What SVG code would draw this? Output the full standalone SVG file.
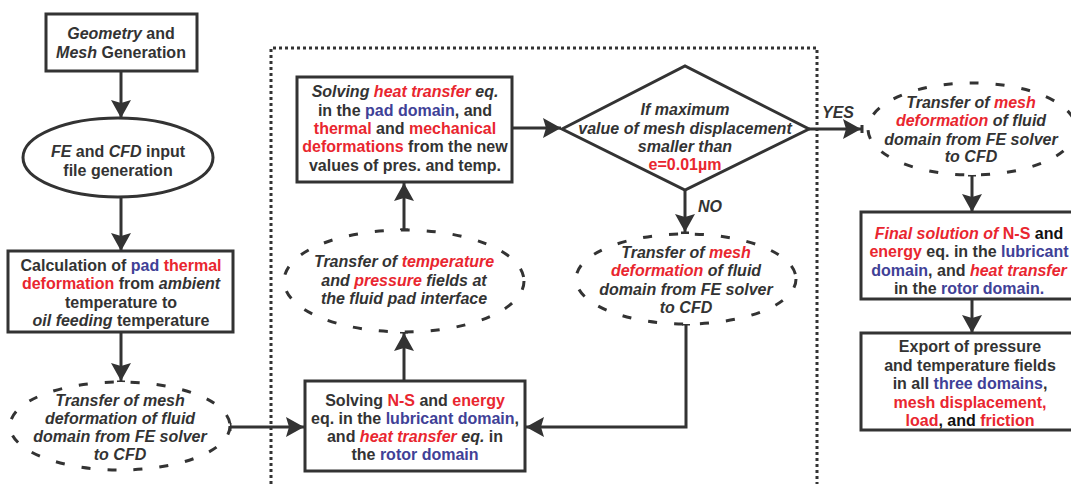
<svg xmlns="http://www.w3.org/2000/svg" width="1071" height="484" viewBox="0 0 1071 484">
<style>
text{font-family:"Liberation Sans",Arial,sans-serif;font-size:16px;font-weight:bold;fill:#333;text-anchor:middle}
.i{font-style:italic}
.r{fill:#e9262f}
.b{fill:#3f4197}
.k{fill:#111}
.box{fill:#fff;stroke:#333;stroke-width:3}
.sol{fill:#fff;stroke:#333;stroke-width:3}
.dash{fill:#fff;stroke:#333;stroke-width:3;stroke-dasharray:9 17}
.ln{fill:none;stroke:#333;stroke-width:3}
.dot{fill:none;stroke:#333;stroke-width:3;stroke-dasharray:3 3}
</style>
<defs>
<marker id="ah" markerWidth="19" markerHeight="20" refX="18" refY="10" orient="auto" markerUnits="userSpaceOnUse">
<path d="M0,0 L18,10 L0,20 L3,10 z" fill="#333"/>
</marker>
</defs>
<rect width="1071" height="484" fill="#fff"/>
<path id="frame" class="dot" d="M271,484 V48 H817 V484"/>
<g id="connectors">
<path class="ln" d="M121,71 V118" marker-end="url(#ah)"/>
<path class="ln" d="M121,197 V251" marker-end="url(#ah)"/>
<path class="ln" d="M121,332 V381" marker-end="url(#ah)"/>
<path class="ln" d="M230,427 H304" marker-end="url(#ah)"/>
<path class="ln" d="M404,381 V333" marker-end="url(#ah)"/>
<path class="ln" d="M404,230 V183" marker-end="url(#ah)"/>
<path class="ln" d="M512,128 H561" marker-end="url(#ah)"/>
<path class="ln" d="M685,190 V232" marker-end="url(#ah)"/>
<path class="ln" d="M686,324 V427 H526" marker-end="url(#ah)"/>
<path class="ln" d="M809,129 H861" marker-end="url(#ah)"/>
<path class="ln" d="M972,175 V212" marker-end="url(#ah)"/>
<path class="ln" d="M972,299 V333" marker-end="url(#ah)"/>
<path class="ln" d="M117,382 H125 M230,423 V431 M400,332 H408 M400,230 H408 M681,233 H689 M682,324 H690 M862,125 V133 M968,175 H976"/>
<text class="i" x="838" y="118">YES</text>
<text class="i" x="698" y="212" style="text-anchor:start">NO</text>
</g>
<g id="n1">
<rect class="box" x="46" y="14" width="151" height="57"/>
<text x="121" y="39"><tspan class="i">Geometry</tspan> and</text>
<text x="121" y="58"><tspan class="i">Mesh</tspan> Generation</text>
</g>
<g id="n2">
<ellipse class="sol" cx="118" cy="157.5" rx="95" ry="39.5"/>
<text x="118" y="157"><tspan class="i">FE</tspan> and <tspan class="i">CFD</tspan> input</text>
<text x="118" y="176">file generation</text>
</g>
<g id="n3">
<rect class="box" x="8" y="251" width="225" height="81"/>
<text x="121" y="270.5">Calculation of <tspan class="b">pad</tspan> <tspan class="r">thermal</tspan></text>
<text x="121" y="289"><tspan class="r">deformation</tspan> from <tspan class="i">ambient</tspan></text>
<text x="121" y="307.5">temperature to</text>
<text x="121" y="325.5"><tspan class="i">oil feeding</tspan> temperature</text>
</g>
<g id="n4">
<ellipse class="dash" cx="120" cy="426" rx="110" ry="44"/>
<text class="i" x="120" y="405.5">Transfer of mesh</text>
<text class="i" x="120" y="424">deformation of fluid</text>
<text class="i" x="120" y="442">domain from FE solver</text>
<text class="i" x="120" y="459.5">to CFD</text>
</g>
<g id="n5">
<rect class="box" x="305" y="381" width="220" height="90"/>
<text x="415" y="405.5">Solving <tspan class="r">N-S</tspan> and <tspan class="r">energy</tspan></text>
<text x="415" y="424">eq. in the <tspan class="b">lubricant domain</tspan>,</text>
<text x="415" y="441.5">and <tspan class="r i">heat transfer</tspan> <tspan class="i">eq.</tspan> in</text>
<text x="415" y="459.5">the <tspan class="b">rotor domain</tspan></text>
</g>
<g id="n6">
<ellipse class="dash" cx="404" cy="281" rx="120" ry="51"/>
<text class="i" x="404" y="267">Transfer of <tspan class="r">temperature</tspan></text>
<text class="i" x="404" y="285.5">and <tspan class="r">pressure</tspan> fields at</text>
<text class="i" x="404" y="304">the fluid pad interface</text>
</g>
<g id="n7">
<rect class="box" x="297" y="77" width="215" height="105"/>
<text x="405" y="97"><tspan class="i">Solving</tspan> <tspan class="r i">heat transfer</tspan> <tspan class="i">eq.</tspan></text>
<text x="405" y="115.5">in the <tspan class="b">pad domain</tspan>, and</text>
<text x="405" y="134"><tspan class="r">thermal</tspan> and <tspan class="r">mechanical</tspan></text>
<text x="405" y="152"><tspan class="r">deformations</tspan> from the new</text>
<text x="405" y="170.5">values of pres. and temp.</text>
</g>
<g id="n8">
<polygon class="sol" points="562,129 685,66 809,129 685,190"/>
<text class="i" x="685" y="115">If maximum</text>
<text class="i" x="685" y="134">value of mesh displacement</text>
<text class="i" x="685" y="151.5">smaller than</text>
<text class="r" x="685" y="169.5">e=0.01µm</text>
</g>
<g id="n9">
<ellipse class="dash" cx="686" cy="279" rx="110" ry="45"/>
<text class="i" x="686" y="258">Transfer of <tspan class="r">mesh</tspan></text>
<text class="i" x="686" y="276"><tspan class="r">deformation</tspan> of fluid</text>
<text class="i" x="686" y="294.5">domain from FE solver</text>
<text class="i" x="686" y="313">to CFD</text>
</g>
<g id="n10">
<ellipse class="dash" cx="972" cy="129" rx="104" ry="46"/>
<text class="i" x="971" y="108">Transfer of <tspan class="r">mesh</tspan></text>
<text class="i" x="971" y="126"><tspan class="r">deformation</tspan> of fluid</text>
<text class="i" x="971" y="144.5">domain from FE solver</text>
<text class="i" x="971" y="162">to CFD</text>
</g>
<g id="n11">
<rect class="box" x="861" y="212" width="220" height="87"/>
<text x="969" y="239"><tspan class="r i">Final solution of</tspan> <tspan class="r">N-S</tspan> <tspan class="k">and</tspan></text>
<text x="969" y="257"><tspan class="r">energy</tspan> eq. in the <tspan class="b">lubricant</tspan></text>
<text x="969" y="275.5"><tspan class="b">domain</tspan>, and <tspan class="r i">heat transfer</tspan></text>
<text x="969" y="294">in the <tspan class="b">rotor domain.</tspan></text>
</g>
<g id="n12">
<rect class="box" x="861" y="333" width="220" height="97"/>
<text x="970" y="351.5">Export of pressure</text>
<text x="970" y="370.5">and temperature fields</text>
<text x="970" y="389">in all <tspan class="b">three domains</tspan>,</text>
<text x="970" y="408" class="r">mesh displacement,</text>
<text x="970" y="425.5"><tspan class="r">load</tspan><tspan class="k">, and </tspan><tspan class="r">friction</tspan></text>
</g>
</svg>
